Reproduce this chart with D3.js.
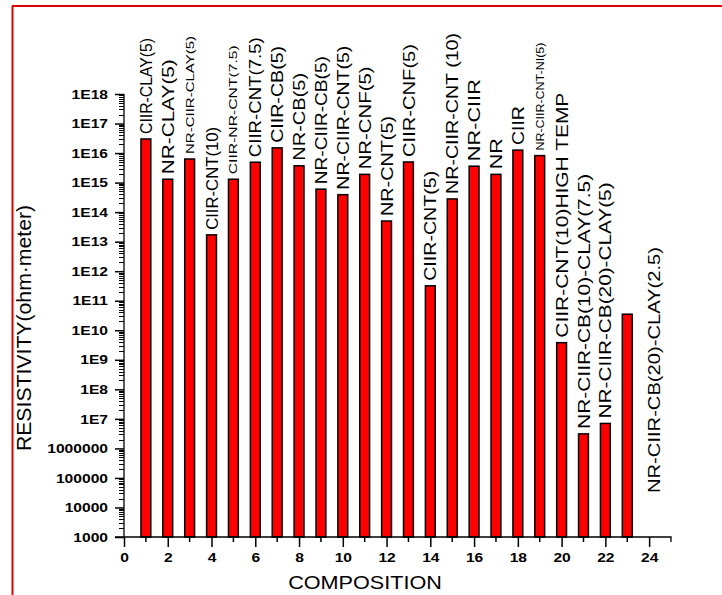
<!DOCTYPE html>
<html>
<head>
<meta charset="utf-8">
<script src="https://cdn.jsdelivr.net/npm/d3@7"></script>
<style>
  html, body { margin: 0; padding: 0; background: #fff; }
  svg { display: block; }
  text { font-family: "Liberation Sans", Arial, sans-serif; fill: #000; }
</style>
</head>
<body>
<svg id="chart" width="722" height="595"></svg>
<script>
// Composition numbers along the x axis
const composition = [1, 2, 3, 4, 5, 6, 7, 8, 9, 10, 11, 12, 13, 14, 15, 16, 17, 18, 19, 20, 21, 22, 23];

// Measured resistivity, ohm·meter
const resistivity = [
  3.0e16, 1.3e15, 6.3e15, 1.7e13, 1.3e15, 4.9e15, 1.5e16, 3.7e15,
  6.0e14, 3.9e14, 1.9e15, 5.0e13, 5.0e15, 3.2e11, 2.8e14, 3.6e15,
  1.9e15, 1.26e16, 8.2e15, 3.8e9, 3.1e6, 7.0e6, 3.5e10
];

// Sample names written above each bar
const sampleNames = [
  "CIIR-CLAY(5)", "NR-CLAY(5)", "NR-CIIR-CLAY(5)", "CIIR-CNT(10)",
  "CIIR-NR-CNT(7.5)", "CIIR-CNT(7.5)", "CIIR-CB(5)", "NR-CB(5)",
  "NR-CIIR-CB(5)", "NR-CIIR-CNT(5)", "NR-CNF(5)", "NR-CNT(5)",
  "CIIR-CNF(5)", "CIIR-CNT(5)", "NR-CIIR-CNT (10)", "NR-CIIR",
  "NR", "CIIR", "NR-CIIR-CNT-NI(5)", "CIIR-CNT(10)HIGH TEMP",
  "NR-CIIR-CB(10)-CLAY(7.5)", "NR-CIIR-CB(20)-CLAY(5)", "NR-CIIR-CB(20)-CLAY(2.5)"
];

// Axis tick values and their printed labels
const xTickValues = [0, 2, 4, 6, 8, 10, 12, 14, 16, 18, 20, 22, 24];
const yTickValues = [1e3, 1e4, 1e5, 1e6, 1e7, 1e8, 1e9, 1e10, 1e11, 1e12, 1e13, 1e14, 1e15, 1e16, 1e17, 1e18];
const yTickLabels = ["1000", "10000", "100000", "1000000", "1E7", "1E8", "1E9", "1E10",
  "1E11", "1E12", "1E13", "1E14", "1E15", "1E16", "1E17", "1E18"];

// Label typography: font size and drawn length of each rotated name
const nameFontSize = [17, 17, 11, 17, 11, 17, 17, 17, 17, 17, 17, 17, 17, 17, 17, 17, 17, 17, 11, 17, 17, 17, 17];
const nameLength = [96, 115, 118, 103, 129, 120, 97, 88, 128, 144, 103, 100, 113, 110, 161, 82, 31, 39, 108, 245, 255, 236, 246];

const svg = d3.select("#chart");
const plot = { left: 124, right: 671, top: 94, bottom: 537 };

const x = d3.scaleLinear().domain([0, 25]).range([plot.left, plot.right]);
const y = d3.scaleLog().domain([1e3, 1e18]).range([plot.bottom, plot.top]);

// Page frame
svg.append("line").attr("x1", 12.5).attr("x2", 12.5).attr("y1", 6).attr("y2", 595)
  .attr("stroke", "#e00000").attr("stroke-width", 2);
svg.append("line").attr("x1", 12).attr("x2", 722).attr("y1", 6).attr("y2", 6)
  .attr("stroke", "#e00000").attr("stroke-width", 2);

// Stretch a text element along its baseline by a factor
function stretch(sel, k) {
  sel.each(function () {
    const w = this.getComputedTextLength();
    d3.select(this).attr("textLength", w * k).attr("lengthAdjust", "spacingAndGlyphs");
  });
}

// Bars
const barW = x(0.45) - x(0);
svg.append("g").selectAll("rect").data(composition).join("rect")
  .attr("x", (d) => x(d) - barW / 2)
  .attr("y", (d, i) => y(resistivity[i]))
  .attr("width", barW)
  .attr("height", (d, i) => y(1e3) - y(resistivity[i]))
  .attr("fill", "#ff0000")
  .attr("stroke", "#000")
  .attr("stroke-width", 1.5);

// Y axis with decade ticks plus log minor ticks
const yMinor = [];
for (let e = 3; e < 18; e++) for (let m = 2; m <= 9; m++) yMinor.push(m * Math.pow(10, e));

const yAxis = svg.append("g").attr("transform", `translate(${plot.left},0)`)
  .call(d3.axisLeft(y).tickValues(yTickValues).tickSize(9).tickPadding(7)
    .tickFormat((d, i) => yTickLabels[i]));
yAxis.select(".domain").attr("stroke", "#000").attr("stroke-width", 1.3).attr("d", `M0,${plot.bottom}V${plot.top}`);
yAxis.selectAll(".tick line").attr("stroke", "#000").attr("stroke-width", 1.5);
yAxis.selectAll(".tick text").attr("font-size", 13).attr("font-weight", "bold")
  .attr("font-family", "'Liberation Sans', Arial, sans-serif").call(stretch, 1.2);
svg.append("g").selectAll("line").data(yMinor).join("line")
  .attr("x1", plot.left - 5).attr("x2", plot.left)
  .attr("y1", (d) => Math.round(y(d)) + 0.5).attr("y2", (d) => Math.round(y(d)) + 0.5)
  .attr("stroke", "#000").attr("stroke-width", 1);

// X axis with even major ticks and odd minor ticks
const xAxis = svg.append("g").attr("transform", `translate(0,${plot.bottom})`)
  .call(d3.axisBottom(x).tickValues(xTickValues).tickSize(10).tickPadding(6).tickFormat(d3.format("d")));
xAxis.select(".domain").attr("stroke", "#000").attr("stroke-width", 1.3).attr("d", `M${plot.left - 9},0H${plot.right}V5`);
xAxis.selectAll(".tick line").attr("stroke", "#000").attr("stroke-width", 1.5);
xAxis.selectAll(".tick text").attr("font-size", 13).attr("font-weight", "bold")
  .attr("font-family", "'Liberation Sans', Arial, sans-serif").call(stretch, 1.2);
svg.append("g").selectAll("line").data(d3.range(1, 25, 2)).join("line")
  .attr("x1", (d) => x(d)).attr("x2", (d) => x(d))
  .attr("y1", plot.bottom).attr("y2", plot.bottom + 5)
  .attr("stroke", "#000").attr("stroke-width", 1.5);

// Rotated sample names above the bars; the last one stands near the axis at x = 24
const names = svg.append("g");
sampleNames.forEach((name, i) => {
  const last = i === sampleNames.length - 1;
  const cx = last ? x(24.2) : x(composition[i]);
  const cy = last ? y(1e3) - 44 : y(resistivity[i]) - 5;
  names.append("text")
    .attr("transform", `translate(${cx},${cy}) rotate(-90)`)
    .attr("dy", "0.36em")
    .attr("font-size", nameFontSize[i])
    .attr("textLength", nameLength[i])
    .attr("lengthAdjust", "spacingAndGlyphs")
    .text(name);
});

// Axis titles
svg.append("text").attr("x", 365).attr("y", 589).attr("text-anchor", "middle")
  .attr("font-size", 18).text("COMPOSITION").call(stretch, 1.2);
svg.append("text").attr("transform", `translate(31,328) rotate(-90)`).attr("text-anchor", "middle")
  .attr("font-size", 20).text("RESISTIVITY(ohm·meter)").call(stretch, 1.06);
</script>
</body>
</html>
